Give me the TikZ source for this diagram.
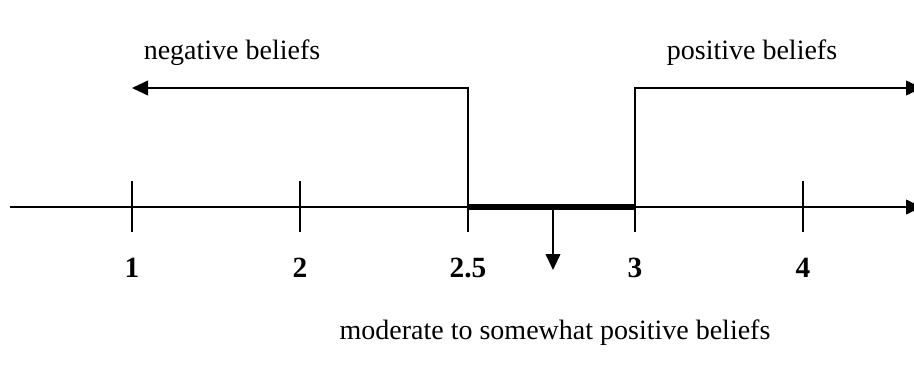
\documentclass[tikz,border=0pt]{standalone}
\usepackage{fontspec}
\setmainfont{Liberation Serif}
\usetikzlibrary{arrows.meta,positioning,calc}

\begin{document}
\begin{tikzpicture}[
    x=0.75pt, y=-0.75pt,
    font=\fontsize{21}{25}\selectfont,
    axisline/.style={line width=1.4pt},
    pointer/.style={line width=1.4pt, -{Triangle[length=12pt,width=11pt]}},
    ticklabel/.style={anchor=base, inner sep=0pt, font=\fontsize{22}{26}\selectfont\bfseries},
    caption/.style={anchor=base, inner sep=0pt}
]
\useasboundingbox (0,0) rectangle (914,378);

% axis and ticks
\coordinate (a_start) at (10,207);
\coordinate (a_end) at (922,207);
\draw[pointer] (a_start) -- (a_end);
\foreach \name/\xx/\lab in {one/132/1, two/300/2, twohalf/468/2.5, three/635/3, four/803/4} {
    \coordinate (t_\name_top) at (\xx,181);
    \coordinate (t_\name_bot) at (\xx,232);
    \draw[axisline] (t_\name_top) -- (t_\name_bot);
    \node[ticklabel] (l_\name) at (\xx,277) {\lab};
}

% moderate range
\coordinate (r_left) at (468,207);
\coordinate (r_right) at (635,207);
\coordinate (r_mid) at (553,207);
\draw[line width=4.5pt] (r_left) -- (r_right);
\coordinate (r_tip) at (553,270);
\draw[pointer] (r_mid) -- (r_tip);
\node[caption] (c_mod) at (555,339) {moderate to somewhat positive beliefs};

% negative / positive
\coordinate (n_corner) at (468,88);
\coordinate (n_tip) at (132,88);
\draw[pointer] (t_twohalf_top) -- (n_corner) -- (n_tip);
\node[caption] (c_neg) at (232,60) {negative beliefs};

\coordinate (p_corner) at (635,88);
\coordinate (p_tip) at (922,88);
\draw[pointer] (t_three_top) -- (p_corner) -- (p_tip);
\node[caption] (c_pos) at (752,60) {positive beliefs};

\end{tikzpicture}
\end{document}
